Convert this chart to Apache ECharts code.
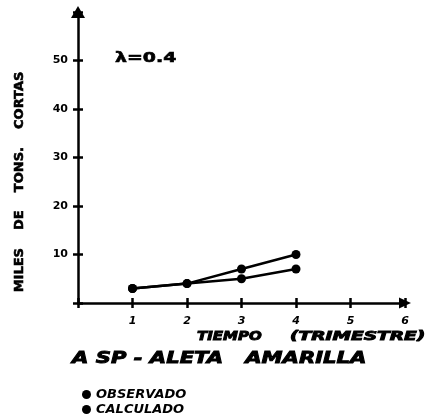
<!DOCTYPE html>
<html>
<head>
<meta charset="utf-8">
<script src="https://cdn.jsdelivr.net/npm/echarts@6/dist/echarts.min.js"></script>
<style>
  html, body { margin: 0; padding: 0; background: #fff; }
  #chart { width: 437px; height: 414px; }
</style>
</head>
<body>
<div id="chart"></div>
<script>
// Quarterly catch, thousands of short tons
const quarters = [1, 2, 3, 4];
const observado = [3, 4, 7, 10];
const calculado = [3, 4, 5, 7];
const xTicks = [1, 2, 3, 4, 5, 6];
const yTicks = [10, 20, 30, 40, 50];

const ink = '#000';
const heavy = 'DejaVu Sans';

const chart = echarts.init(document.getElementById('chart'), null, { renderer: 'canvas' });

const axisLabelX = {
  show: true,
  color: ink,
  fontFamily: heavy,
  fontWeight: 'bold',
  fontStyle: 'italic',
  fontSize: 11,
  margin: 13,
  formatter: v => (xTicks.includes(v) ? String(v) : '')
};
const axisLabelY = {
  show: true,
  color: ink,
  fontFamily: heavy,
  fontWeight: 'bold',
  fontSize: 11,
  margin: 10,
  formatter: v => (yTicks.includes(v) ? String(v) : '')
};

const legendText = { color: ink, fontFamily: heavy, fontWeight: 'bold', fontStyle: 'italic', fontSize: 13 };

// wide, heavy lettering drawn as stretched, outlined text
function wideText(text, x, y, size, stretch) {
  return {
    type: 'text',
    x: x, y: y,
    scaleX: stretch,
    style: {
      text: text,
      fill: ink,
      stroke: ink,
      lineWidth: 0.9,
      font: 'italic 900 ' + size + 'px "DejaVu Sans"',
      align: 'left', verticalAlign: 'middle'
    }
  };
}

chart.setOption({
  animation: false,
  backgroundColor: '#fff',
  legend: [
    {
      left: 77, top: 383,
      itemWidth: 9, itemHeight: 9, itemGap: 0,
      icon: 'circle',
      data: ['OBSERVADO'],
      textStyle: legendText
    },
    {
      left: 77, top: 398,
      itemWidth: 9, itemHeight: 9, itemGap: 0,
      icon: 'circle',
      data: ['CALCULADO'],
      textStyle: legendText
    }
  ],
  graphic: [
    {
      type: 'text',
      x: 20, y: 182,
      rotation: Math.PI / 2,
      style: {
        text: 'MILES    DE    TONS.    CORTAS',
        fill: ink, stroke: ink, lineWidth: 0.6,
        font: '900 13px "DejaVu Sans"',
        align: 'center', verticalAlign: 'middle'
      }
    },
    {
      type: 'text',
      x: 115, y: 58,
      scaleX: 1.35,
      style: {
        text: 'λ=0.4',
        fill: ink, stroke: ink, lineWidth: 0.6,
        font: '900 14px "DejaVu Sans"',
        align: 'left', verticalAlign: 'middle'
      }
    },
    wideText('TIEMPO', 197, 337, 12, 1.25),
    wideText('(TRIMESTRE)', 290, 337, 12, 1.55),
    wideText('A SP - ALETA   AMARILLA', 72, 359, 16, 1.32)
  ],
  grid: { left: 78, right: 32, top: 12, bottom: 111 },
  xAxis: [
    {
      type: 'value',
      min: 0, max: 6, interval: 1,
      splitLine: { show: false },
      axisLine: { show: true, lineStyle: { color: ink, width: 2.5 }, symbol: ['none', 'triangle'], symbolSize: [11, 12] },
      axisTick: { show: true, length: 5, lineStyle: { color: ink, width: 2.5 } },
      axisLabel: axisLabelX
    },
    {
      // upper halves of the crossing tick marks
      type: 'value',
      min: 0, max: 6, interval: 1,
      position: 'bottom',
      axisLine: { show: false },
      axisTick: { show: true, inside: true, length: 5, lineStyle: { color: ink, width: 2.5 } },
      axisLabel: { show: false },
      splitLine: { show: false }
    }
  ],
  yAxis: [
    {
      type: 'value',
      min: 0, max: 60, interval: 10,
      splitLine: { show: false },
      axisLine: { show: true, lineStyle: { color: ink, width: 2.5 }, symbol: ['none', 'triangle'], symbolSize: [14, 12] },
      axisTick: { show: true, length: 5, lineStyle: { color: ink, width: 2.5 } },
      axisLabel: axisLabelY
    },
    {
      type: 'value',
      min: 0, max: 60, interval: 10,
      position: 'left',
      axisLine: { show: false },
      axisTick: { show: true, inside: true, length: 5, lineStyle: { color: ink, width: 2.5 } },
      axisLabel: { show: false },
      splitLine: { show: false }
    }
  ],
  series: [
    {
      name: 'OBSERVADO',
      type: 'line',
      data: quarters.map((q, i) => [q, observado[i]]),
      symbol: 'circle', symbolSize: 9,
      itemStyle: { color: ink },
      lineStyle: { color: ink, width: 2.5 }
    },
    {
      name: 'CALCULADO',
      type: 'line',
      data: quarters.map((q, i) => [q, calculado[i]]),
      symbol: 'circle', symbolSize: 9,
      itemStyle: { color: ink },
      lineStyle: { color: ink, width: 2.5 }
    }
  ]
});
</script>
</body>
</html>
